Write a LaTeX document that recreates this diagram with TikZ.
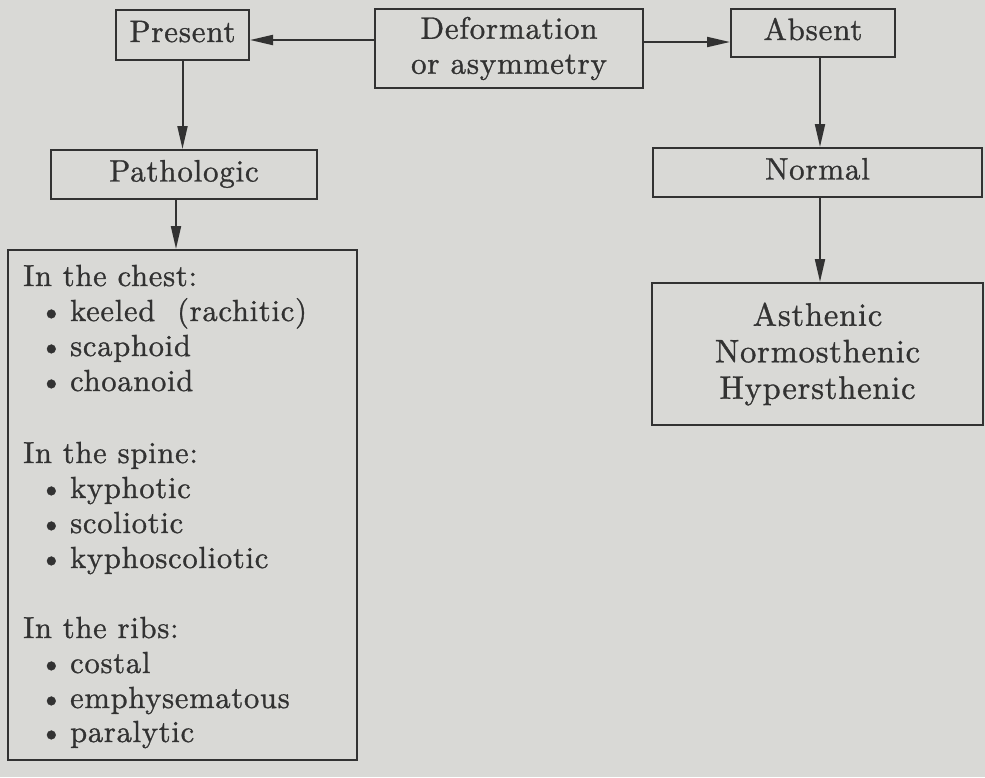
\documentclass[tikz,border=0pt]{standalone}
\usepackage{fontspec}
\setmainfont{lmroman10-regular}[Extension=.otf,FakeBold=1,LetterSpace=2.5]
\usetikzlibrary{arrows.meta}
\definecolor{paper}{RGB}{217,217,214}
\definecolor{ink}{RGB}{50,50,50}
\newcommand{\bul}{\llap{\textbullet\hspace{7pt}}}
\begin{document}
\begin{tikzpicture}[x=1pt,y=-1pt,
  box/.style={draw=ink,line width=2pt,inner sep=0pt,text=ink,font=\fontsize{31}{35}\selectfont},
  one/.style={box,text height=22pt,text depth=8pt},
  arr/.style={draw=ink,line width=2pt,-{Triangle[length=23pt,width=10pt]}},
  txt/.style={text=ink,inner sep=0pt,anchor=base west,font=\fontsize{30.5}{35}\selectfont},
  itm/.style={txt}]
\fill[paper] (0,0) rectangle (985,777);
\useasboundingbox (0,0) rectangle (985,777);
% boxes
\node[one,minimum width=133pt,minimum height=50pt] (present) at (182.5,35) {Present};
\node[box,minimum width=268pt,minimum height=79pt,align=center] (deform) at (509,48.5) {Deformation\\or asymmetry};
\node[one,minimum width=164pt,minimum height=48pt] (absent) at (813,33) {Absent};
\node[one,minimum width=266pt,minimum height=49pt] (patho) at (184,174.5) {Pathologic};
\node[one,minimum width=329pt,minimum height=49pt] (normal) at (817.5,172.5) {Normal};
\node[box,minimum width=331pt,minimum height=142pt,align=center,font=\fontsize{32.5}{36.5}\selectfont] (types) at (817.5,354) {Asthenic\\Normosthenic\\Hypersthenic};
\node[box,minimum width=349pt,minimum height=510pt] (list) at (182.5,505) {};
% connectors
\path ([yshift=8.5pt]deform.west) coordinate (dw);
\path ([yshift=6.5pt]deform.east) coordinate (de);
\draw[arr] (dw) -- (dw -| present.east);
\draw[arr] (de) -- (de -| absent.west);
\draw[arr] (present.south) -- (present.south |- patho.north);
\path ([xshift=-8pt]patho.south) coordinate (ps);
\draw[arr] (ps) -- (ps |- list.north);
\path ([xshift=7pt]absent.south) coordinate (as);
\draw[arr] (as) -- (as |- normal.north);
\path ([xshift=2.5pt]normal.south) coordinate (ns);
\draw[arr] (ns) -- (ns |- types.north);
% list text
\node[txt] (h1) at (23,286) {In the chest:};
\node[itm] (i1) at (70,321) {\bul keeled\ \ (rachitic)};
\node[itm] (i2) at (70,356) {\bul scaphoid};
\node[itm] (i3) at (70,391) {\bul choanoid};
\node[txt] (h2) at (23,463) {In the spine:};
\node[itm] (i4) at (70,498) {\bul kyphotic};
\node[itm] (i5) at (70,533) {\bul scoliotic};
\node[itm] (i6) at (70,568) {\bul kyphoscoliotic};
\node[txt] (h3) at (23,638) {In the ribs:};
\node[itm] (i7) at (70,673) {\bul costal};
\node[itm] (i8) at (70,708) {\bul emphysematous};
\node[itm] (i9) at (70,742) {\bul paralytic};
\end{tikzpicture}
\end{document}
